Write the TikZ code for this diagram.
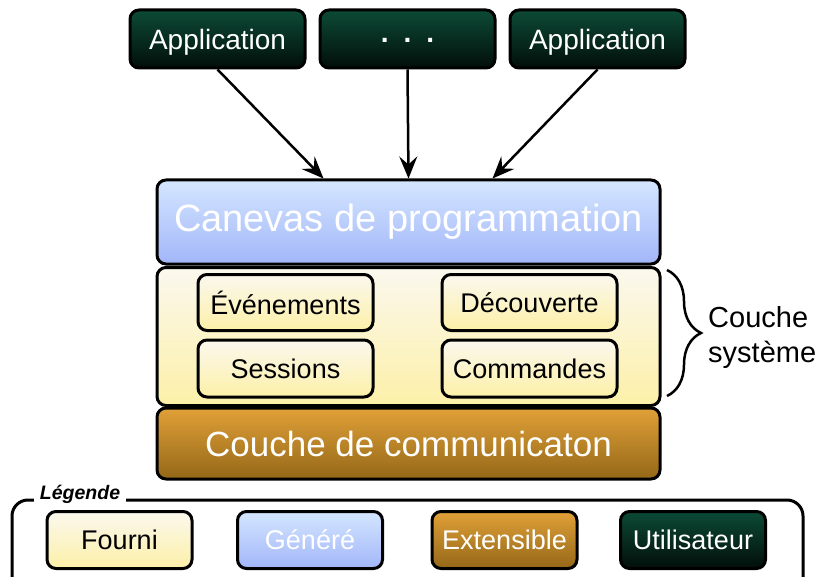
\documentclass[tikz,border=0pt]{standalone}
\usepackage{fontspec}
\setmainfont{Liberation Sans}
\usetikzlibrary{arrows.meta,decorations.pathreplacing}
\definecolor{ugtop}{RGB}{12,74,54}
\definecolor{ugbot}{RGB}{2,14,10}
\definecolor{bltop}{RGB}{212,230,255}
\definecolor{blbot}{RGB}{162,182,249}
\definecolor{yetop}{RGB}{251,248,238}
\definecolor{yebot}{RGB}{252,240,168}
\definecolor{ortop}{RGB}{225,160,56}
\definecolor{orbot}{RGB}{148,104,24}
\tikzset{
  box/.style={draw=black, line width=3pt, rounded corners=9pt, inner sep=0pt},
  user/.style={box, top color=ugtop, bottom color=ugbot, text=white},
  gen/.style={box, top color=bltop, bottom color=blbot, text=white},
  prov/.style={box, top color=yetop, bottom color=yebot, text=black},
  ext/.style={box, top color=ortop, bottom color=orbot, text=white},
  appbox/.style={minimum width=175pt, minimum height=58pt, text height=21pt, text depth=0pt, font=\fontsize{28}{34}\selectfont},
  inbox/.style={prov, minimum width=175pt, minimum height=56pt, font=\fontsize{27}{32}\selectfont},
  legbox/.style={minimum width=145pt, minimum height=57pt, font=\fontsize{27}{32}\selectfont},
  arr/.style={line width=2.5pt, -{Stealth[length=22pt,width=18pt,inset=8pt]}}
}
\begin{document}
\begin{tikzpicture}[x=1pt,y=-1pt]
\useasboundingbox (0,0) rectangle (821,577);
\clip (0,0) rectangle (821,577);
% applications
\node[user,appbox] (app1) at (217.5,39) {Application};
\node[user,appbox,text height=8pt,font=\bfseries\fontsize{28}{34}\selectfont] (appd) at (407.5,39) {.\hspace{15pt}.\hspace{15pt}.};
\node[user,appbox] (app2) at (597.5,39) {Application};
% layers
\node[gen,minimum width=503pt,minimum height=84pt,font=\fontsize{38}{44}\selectfont] (canevas) at (408.5,222) {Canevas de programmation};
\node[prov,minimum width=503pt,minimum height=138pt] (sys) at (408.5,336.5) {};
\node[ext,minimum width=503pt,minimum height=71pt,font=\fontsize{35}{40}\selectfont] (comm) at (408.5,443.5) {Couche de communicaton};
\node[inbox] (ev) at (285.5,302.5) {Événements};
\node[inbox] (dec) at (529.5,302.5) {Découverte};
\node[inbox,minimum height=57pt] (ses) at (285.5,368.5) {Sessions};
\node[inbox,minimum height=57pt] (com) at (529.5,368.5) {Commandes};
% arrows
\draw[arr] (app1.south) -- ([xshift=-85pt]canevas.north);
\draw[arr] (appd.south) -- (canevas.north);
\draw[arr] (app2.south) -- ([xshift=84pt]canevas.north);
% brace
\coordinate (btop) at (667,270);
\coordinate (bbot) at (667,396);
\draw[line width=2.5pt, decorate, decoration={brace, amplitude=34pt}] (btop) -- (bbot);
\node[anchor=west, align=left, font=\fontsize{29}{35}\selectfont, inner sep=0pt] (syslab) at (708,338) {Couche\\système};
% legend
\draw[line width=3pt, rounded corners=16pt] (12,500) rectangle (803,610);
\node[fill=white, inner xsep=6pt, inner ysep=1pt, font=\bfseries\itshape\fontsize{19.5}{22}\selectfont] (legt) at (80,494) {Légende};
\node[prov,legbox] (lf) at (119.5,540) {Fourni};
\node[gen,legbox] (lg) at (310,540) {Généré};
\node[ext,legbox] (le) at (504.5,540) {Extensible};
\node[user,legbox] (lu) at (693,540) {Utilisateur};
\end{tikzpicture}
\end{document}
